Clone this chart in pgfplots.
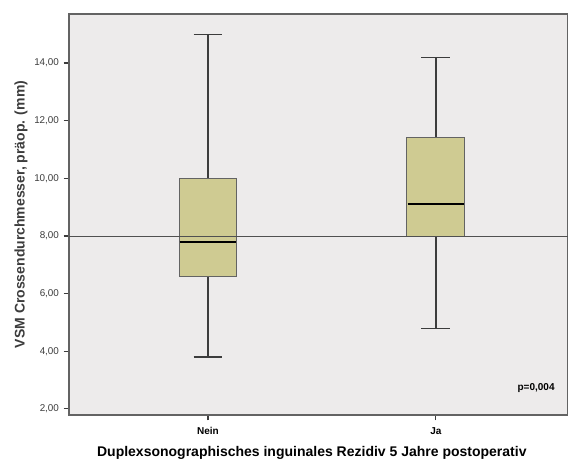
\documentclass[border=0pt]{standalone}
\usepackage{pgfplots}
\pgfplotsset{compat=1.18}
\usepackage{fontspec}
\setmainfont{Liberation Sans}
\definecolor{bgc}{HTML}{EDEBEB}
\definecolor{boxc}{HTML}{CFCB92}
\definecolor{linec}{HTML}{3C3C3C}
\begin{document}
\begin{tikzpicture}
\begin{axis}[
  at={(51.75pt,36.75pt)}, anchor=south west,
  scale only axis, width=374.25pt, height=300.75pt,
  xmin=0.39, xmax=2.58, ymin=1.79, ymax=15.70,
  axis background/.style={fill=bgc},
  axis line style={draw=linec!80, line width=0.9pt},
  xtick={1,2}, xticklabels={Nein,Ja},
  ytick={2,4,6,8,10,12,14},
  yticklabel={\pgfmathprintnumber[fixed,fixed zerofill,precision=2,use comma,assume math mode=true]{\tick}},
  tick align=outside, major tick length=4pt,
  tick style={draw=linec, line width=0.8pt},
  xtick pos=bottom, ytick pos=left,
  yticklabel style={font=\fontsize{7.4}{8}\selectfont, text=linec},
  xticklabel style={font=\fontsize{7.5}{8}\selectfont\bfseries, text=black, yshift=-2pt},
  ylabel={VSM Crossendurchmesser, präop. (mm)},
  ylabel style={font=\fontsize{10.5}{12}\selectfont\bfseries, text=linec, at={(axis description cs:0,0.5)}, anchor=center, yshift=36pt},
  xlabel={Duplexsonographisches inguinales Rezidiv 5 Jahre postoperativ},
  xlabel style={font=\fontsize{10.5}{12}\selectfont\bfseries, text=black, at={(axis description cs:0.5,0)}, anchor=center, yshift=-28.5pt, xshift=-5pt},
  clip=false,
]
% --- Nein: lower whisker 3.8, Q1 6.6, median 7.8, Q3 10.0, upper whisker 15.0
\addplot[draw=linec, line width=1pt, mark=none] coordinates {(1,10.0) (1,15.0)};
\addplot[draw=linec, line width=1pt, mark=none] coordinates {(1,6.6) (1,3.8)};
\addplot[draw=linec, line width=1pt, mark=none] coordinates {(0.9365,15.0) (1.0635,15.0)};
\addplot[draw=linec, line width=1pt, mark=none] coordinates {(0.9365,3.8) (1.0635,3.8)};
\addplot[draw=linec!80, fill=boxc, line width=0.7pt, mark=none] coordinates {(0.873,6.6) (1.127,6.6) (1.127,10.0) (0.873,10.0)} -- cycle;
% --- Ja: lower whisker 4.8, Q1 8.0, median 9.1, Q3 11.4, upper whisker 14.2
\addplot[draw=linec, line width=1pt, mark=none] coordinates {(2,11.4) (2,14.2)};
\addplot[draw=linec, line width=1pt, mark=none] coordinates {(2,8.0) (2,4.8)};
\addplot[draw=linec, line width=1pt, mark=none] coordinates {(1.9365,14.2) (2.0635,14.2)};
\addplot[draw=linec, line width=1pt, mark=none] coordinates {(1.9365,4.8) (2.0635,4.8)};
\addplot[draw=linec!80, fill=boxc, line width=0.7pt, mark=none] coordinates {(1.873,8.0) (2.127,8.0) (2.127,11.4) (1.873,11.4)} -- cycle;
% medians
\addplot[draw=black, line width=1.8pt, mark=none] coordinates {(0.876,7.8) (1.124,7.8)};
\addplot[draw=black, line width=1.8pt, mark=none] coordinates {(1.876,9.1) (2.124,9.1)};
% reference line
\addplot[draw=linec!90, line width=0.7pt, mark=none] coordinates {(0.39,8) (2.58,8)};
\node[font=\fontsize{7.5}{8}\selectfont\bfseries, text=black] at (axis cs:2.44,2.73) {p=0,004};
\end{axis}
\pgfresetboundingbox
\useasboundingbox (0,0) rectangle (426pt,348pt);
\end{tikzpicture}
\end{document}
